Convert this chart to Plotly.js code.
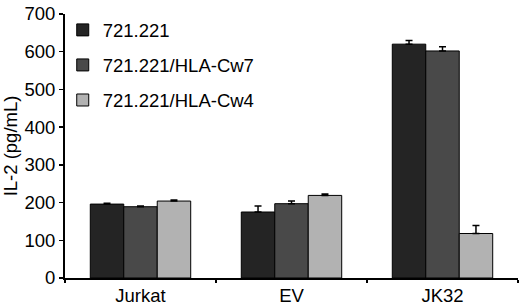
<!DOCTYPE html>
<html>
<head>
<meta charset="utf-8">
<script src="https://cdn.plot.ly/plotly-3.0.1.min.js"></script>
<style>html,body{margin:0;padding:0;background:#fff;}#chart{width:520px;height:305px;}</style>
</head>
<body>
<div id="chart"></div>
<script>
var categories = ["Jurkat", "EV", "JK32"];
var seriesNames = ["721.221", "721.221/HLA-Cw7", "721.221/HLA-Cw4"];
var values221 = [196, 175, 620];
var valuesCw7 = [189, 197, 602];
var valuesCw4 = [204, 219, 118];
var err221 = [2, 16, 10];
var errCw7 = [2, 7, 11];
var errCw4 = [3, 4, 21];
var zeros = [0, 0, 0];
var yTicks = [0, 100, 200, 300, 400, 500, 600, 700];

var colors = ["#242424", "#494949", "#b2b2b2"];
var allValues = [values221, valuesCw7, valuesCw4];
var allErr = [err221, errCw7, errCw4];

var traces = allValues.map(function (vals, i) {
  return {
    type: "bar",
    name: seriesNames[i],
    x: categories,
    y: vals,
    legendgroup: "g" + i,
    marker: { color: colors[i], line: { color: "#000", width: 1 } },
    error_y: {
      type: "data", symmetric: false, array: allErr[i], arrayminus: zeros,
      color: "#000", thickness: 1.5, width: 3.5
    }
  };
});

var font = "Liberation Sans, Arial, sans-serif";
var fs = 18.5;
var layout = {
  width: 520, height: 305,
  margin: { l: 65, r: 2, t: 13.5, b: 26.5 },
  paper_bgcolor: "#fff", plot_bgcolor: "#fff",
  barmode: "group", bargap: 0.335, bargroupgap: 0,
  showlegend: true,
  legend: {
    x: -0.005, y: 1.01, xanchor: "left", yanchor: "top",
    traceorder: "grouped", tracegroupgap: 8,
    font: { family: font, size: fs, color: "#000" },
    bgcolor: "rgba(0,0,0,0)"
  },
  font: { family: font, color: "#000" },
  xaxis: {
    type: "category", range: [-0.5, 2.5],
    showline: true, linecolor: "#000", linewidth: 2,
    ticks: "outside", tickson: "boundaries", ticklen: 3, tickwidth: 1.5, tickcolor: "#000",
    tickfont: { family: font, size: fs, color: "#000" },
    showgrid: false, zeroline: false, fixedrange: true
  },
  yaxis: {
    range: [0, 700], tickvals: yTicks, ticktext: yTicks.map(String),
    showline: true, linecolor: "#000", linewidth: 2,
    ticks: "outside", ticklen: 4, tickwidth: 1.5, tickcolor: "#000",
    tickfont: { family: font, size: fs, color: "#000" },
    showgrid: false, zeroline: false,
    title: { text: "IL-2 (pg/mL)", font: { family: font, size: fs, color: "#000" }, standoff: 4 }
  }
};

Plotly.newPlot("chart", traces, layout, { displayModeBar: false, staticPlot: true });
</script>
</body>
</html>
